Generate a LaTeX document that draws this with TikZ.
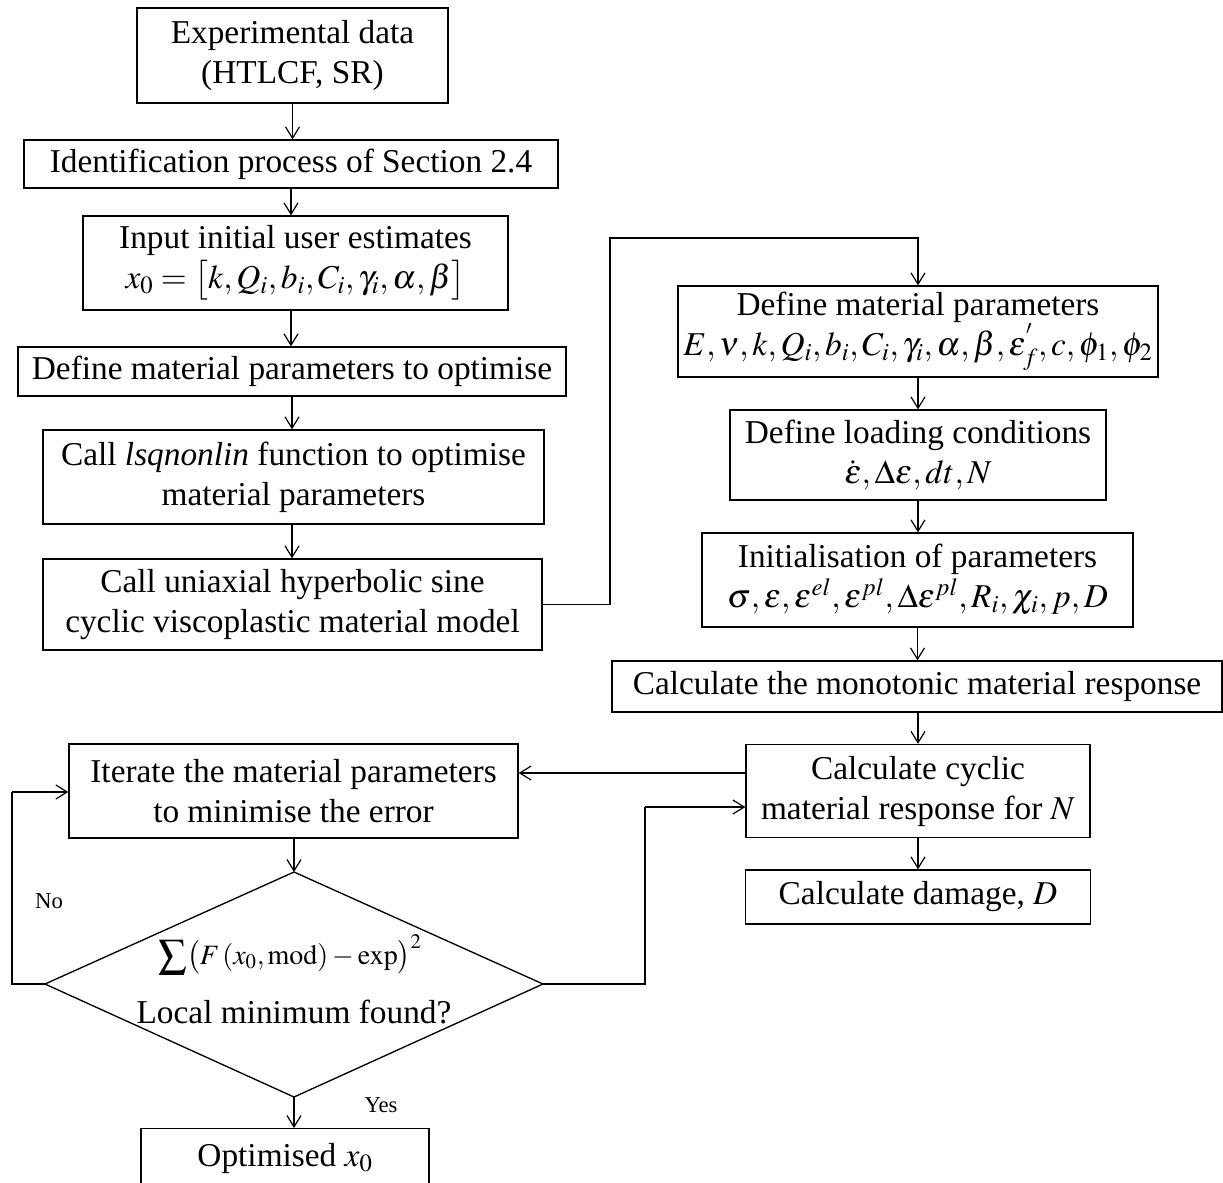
\documentclass[tikz,border=0pt]{standalone}
\usepackage{mathptmx}
\usepackage{fontspec}
\setmainfont{Liberation Serif}
\usetikzlibrary{arrows.meta}
\begin{document}
\begin{tikzpicture}[x=0.75pt,y=-0.75pt,
  box/.style={draw,line width=1pt,align=center,inner sep=0pt,font=\fontsize{25}{30}\selectfont},
  txt/.style={align=center,inner sep=0pt,font=\fontsize{25}{30}\selectfont},
  arr/.style={line width=0.9pt,-{Straight Barb[length=8.5pt,width=10.5pt,line width=0.9pt]}},
  ln/.style={line width=0.9pt},
  lab/.style={font=\fontsize{17}{20}\selectfont,inner sep=0pt}]
\useasboundingbox (0,0) rectangle (1223,1182);
\fill[white] (0,0) rectangle (1223,1182);
% left column
\node[box,minimum width=233.25pt,minimum height=71.25pt] (exp) at (292.5,55.5) {Experimental data\\(HTLCF, SR)};
\node[box,minimum width=400.5pt,minimum height=36pt] (ident) at (291,164) {Identification process of Section 2.4};
\node[box,minimum width=318.75pt,minimum height=70.5pt] (input) at (295.5,263) {Input initial user estimates\\$x_{0}=\bigl[k,Q_{i},b_{i},C_{i},\gamma_{i},\alpha,\beta\bigr]$};
\node[box,minimum width=411pt,minimum height=36.75pt] (defopt) at (292,371.5) {Define material parameters to optimise};
\node[box,minimum width=375.75pt,minimum height=70.5pt] (lsq) at (293.5,477) {Call \textit{lsqnonlin} function to optimise\\material parameters};
\node[box,minimum width=374.25pt,minimum height=68.25pt] (uni) at (292.5,604.5) {Call uniaxial hyperbolic sine\\cyclic viscoplastic material model};
% right column
\node[box,minimum width=360pt,minimum height=68.25pt] (defmat) at (918,331.5) {Define material parameters\\$E,\nu,k,Q_{i},b_{i},C_{i},\gamma_{i},\alpha,\beta,\varepsilon_{f}^{'},c,\phi_{1},\phi_{2}$};
\node[box,minimum width=282pt,minimum height=67.5pt] (load) at (918,455) {Define loading conditions\\$\dot{\varepsilon},\Delta\varepsilon,dt,N$};
\node[box,minimum width=323.25pt,minimum height=70.5pt] (init) at (917.5,580) {Initialisation of parameters\\$\sigma,\varepsilon,\varepsilon^{el},\varepsilon^{pl},\Delta\varepsilon^{pl},R_{i},\chi_{i},p,D$};
\node[box,minimum width=457.5pt,minimum height=38.25pt] (mono) at (917,686.5) {Calculate the monotonic material response};
\node[box,minimum width=258pt,minimum height=69.75pt] (cyc) at (918,791) {Calculate cyclic\\material response for $N$};
\node[box,minimum width=258.75pt,minimum height=40.5pt] (dmg) at (918,897) {Calculate damage, $D$};
% bottom left
\node[box,minimum width=336.75pt,minimum height=70.5pt] (iter) at (293.5,791) {Iterate the material parameters\\to minimise the error};
\coordinate (dl) at (45,984);
\coordinate (dr) at (543,984);
\coordinate (dt) at (294,872);
\coordinate (db) at (294,1097);
\draw[line width=1pt] (dl) -- (dt) -- (dr) -- (db) -- cycle;
\node[txt,font=\fontsize{21}{25}\selectfont] (dsum) at (290,955) {$\displaystyle\sum\bigl(F\left(x_{0},\mathrm{mod}\right)-\exp\bigr)^{2}$};
\node[txt] (dq) at (294,1012) {Local minimum found?};
\node[box,minimum width=216pt,minimum height=46.5pt,anchor=north] (opt) at (285,1128) {};
\node[txt] (opttext) at (285,1158) {Optimised $x_{0}$};
\node[lab] (no) at (49,901) {No};
\node[lab] (yes) at (381,1105) {Yes};
% helper coordinates
\coordinate (c1) at (610,238);
\coordinate (c2) at (645,807);
\coordinate (c3) at (12,792);
\coordinate (ya) at (0,773);
% connectors
\draw[arr] (exp.south) -- (exp.south |- ident.north);
\draw[arr] (ident.south) -- (ident.south |- input.north);
\draw[arr] (input.south -| ident.south) -- (ident.south |- defopt.north);
\draw[arr] (defopt.south) -- (defopt.south |- lsq.north);
\draw[arr] (lsq.south -| defopt.south) -- (defopt.south |- uni.north);
\draw[arr] (uni.east) -| (c1) -| (defmat.north);
\draw[arr] (defmat.south) -- (load.north);
\draw[arr] (load.south) -- (load.south |- init.north);
\draw[arr] (init.south) -- (init.south |- mono.north);
\draw[arr] (mono.south -| load.south) -- (load.south |- cyc.north);
\draw[arr] (cyc.south) -- (dmg.north);
\draw[arr] (cyc.west |- ya) -- (iter.east |- ya);
\draw[arr] (iter.south -| dt) -- (dt);
\draw[arr] (db) -- (db |- opt.north);
\draw[ln] (dr) -| (c2);
\draw[arr] (c2) -- (cyc.west |- c2);
\draw[ln] (dl) -| (c3);
\draw[arr] (c3) -- (iter.west |- c3);
\end{tikzpicture}
\end{document}
